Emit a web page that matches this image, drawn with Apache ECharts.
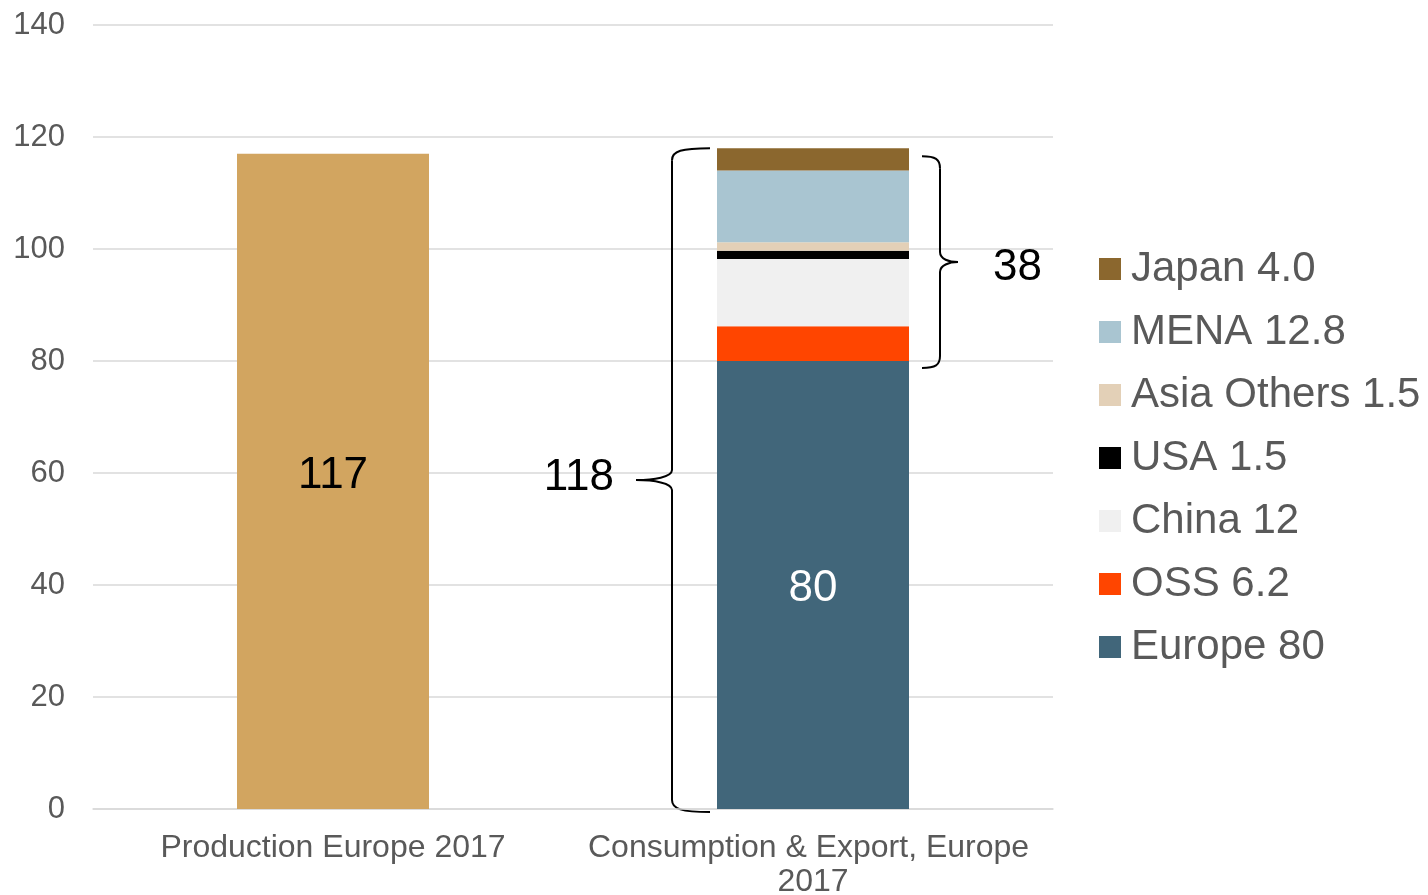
<!DOCTYPE html>
<html>
<head>
<meta charset="utf-8">
<script src="https://cdn.jsdelivr.net/npm/echarts@6/dist/echarts.min.js"></script>
<style>
  html, body { margin: 0; padding: 0; background: #fff; }
</style>
</head>
<body>
<div id="main" style="width: 1428px;height:895px;"></div>
<script type="text/javascript">
    // data
    var categories = ['Production Europe 2017', 'Consumption & Export, Europe 2017'];
    var production = 117;
    var regions = ['Europe', 'OSS', 'China', 'USA', 'Asia Others', 'MENA', 'Japan'];
    var regionValues = [80, 6.2, 12, 1.5, 1.5, 12.8, 4.0];
    var regionText = ['80', '6.2', '12', '1.5', '1.5', '12.8', '4.0'];
    var regionColors = ['#41667a', '#ff4500', '#f0f0f0', '#000000', '#e3d0b7', '#a9c5d1', '#8b672e'];
    var yTicks = [0, 20, 40, 60, 80, 100, 120, 140];
    var exportShare = 38;   // right brace

    var font = 'Liberation Sans, Arial, sans-serif';
    var myChart = echarts.init(document.getElementById('main'));

    var total = 0;
    regionValues.forEach(function (v) { total += v; });
    total = Math.round(total * 10) / 10;

    var seriesList = [{
        name: 'Production',
        type: 'bar',
        stack: 'all',
        barWidth: '40%',
        data: [production, '-'],
        itemStyle: { color: '#d2a560' },
        label: {
            show: true, position: 'inside', offset: [0, -6],
            color: '#000', fontSize: 44, fontFamily: font
        }
    }];
    regions.forEach(function (r, i) {
        seriesList.push({
            name: r,
            type: 'bar',
            stack: 'all',
            barWidth: '40%',
            data: ['-', regionValues[i]],
            itemStyle: { color: regionColors[i] },
            label: {
                show: r === 'Europe', position: 'inside', offset: [0, 4],
                color: '#fff', fontSize: 44, fontFamily: font
            }
        });
    });

    var option = {
        animation: false,
        grid: { left: 93, right: 375, top: 25, bottom: 86, containLabel: false, outerBoundsMode: 'none' },
        legend: {
            orient: 'vertical',
            left: 1099,
            top: 248,
            padding: 0,
            data: regions.slice().reverse(),
            icon: 'rect',
            itemWidth: 22,
            itemHeight: 22,
            itemGap: 21,
            selectedMode: false,
            formatter: function (name) {
                return name + ' ' + regionText[regions.indexOf(name)];
            },
            textStyle: {
                fontSize: 42, lineHeight: 42, color: '#595959',
                fontFamily: font, padding: [0, 0, 0, 5]
            }
        },
        xAxis: {
            type: 'category',
            data: categories,
            axisLine: { lineStyle: { color: '#d9d9d9', width: 1.5 } },
            axisTick: { show: false },
            axisLabel: {
                interval: 0,
                color: '#595959', fontSize: 32, fontFamily: font,
                margin: 22, lineHeight: 34, width: 460, overflow: 'break'
            }
        },
        yAxis: {
            type: 'value',
            min: yTicks[0],
            max: yTicks[yTicks.length - 1],
            interval: yTicks[1] - yTicks[0],
            axisLine: { show: false },
            axisTick: { show: false },
            splitLine: { lineStyle: { color: '#d9d9d9', width: 1.5 } },
            axisLabel: { color: '#595959', fontSize: 31, fontFamily: font, margin: 28 }
        },
        series: seriesList
    };

    myChart.setOption(option);

    // curly braces, placed from data through the chart's own scales
    function brace(xv, top, bottom, armDir, arm, tip) {
        var mid = (top + bottom) / 2;
        var st = { stroke: '#000', lineWidth: 2, fill: null };
        var a = armDir * arm, t = -armDir * tip;
        return [
            { type: 'bezierCurve', shape: { x1: xv + a, y1: top, x2: xv, y2: top + 12, cpx1: xv + a * 0.25, cpy1: top, cpx2: xv, cpy2: top + 3 }, style: st },
            { type: 'line', shape: { x1: xv, y1: top + 12, x2: xv, y2: mid - 10 }, style: st },
            { type: 'bezierCurve', shape: { x1: xv, y1: mid - 10, x2: xv + t, y2: mid, cpx1: xv, cpy1: mid - 3, cpx2: xv + t * 0.5, cpy2: mid }, style: st },
            { type: 'bezierCurve', shape: { x1: xv + t, y1: mid, x2: xv, y2: mid + 10, cpx1: xv + t * 0.5, cpy1: mid, cpx2: xv, cpy2: mid + 3 }, style: st },
            { type: 'line', shape: { x1: xv, y1: mid + 10, x2: xv, y2: bottom - 12 }, style: st },
            { type: 'bezierCurve', shape: { x1: xv, y1: bottom - 12, x2: xv + a, y2: bottom, cpx1: xv, cpy1: bottom - 3, cpx2: xv + a * 0.25, cpy2: bottom }, style: st }
        ];
    }

    var pTop = myChart.convertToPixel({ gridIndex: 0 }, [1, total]);
    var pZero = myChart.convertToPixel({ gridIndex: 0 }, [1, 0]);
    var pEur = myChart.convertToPixel({ gridIndex: 0 }, [1, regionValues[0]]);
    var cx = pTop[0];

    var leftX = cx - 141;
    var lTop = pTop[1], lBot = pZero[1] + 3;
    var rightX = cx + 127;
    var rTop = pTop[1] + 8, rBot = pEur[1] + 7;

    var els = brace(leftX, lTop, lBot, 1, 38, 36).concat(brace(rightX, rTop, rBot, -1, 18, 18));
    els.push({
        type: 'text',
        style: { text: String(total), x: leftX - 36 - 22, y: (lTop + lBot) / 2 - 2, align: 'right', verticalAlign: 'middle', fontSize: 44, fontFamily: font, fill: '#000' }
    });
    els.push({
        type: 'text',
        style: { text: String(exportShare), x: rightX + 18 + 35, y: (rTop + rBot) / 2 + 6, align: 'left', verticalAlign: 'middle', fontSize: 44, fontFamily: font, fill: '#000' }
    });

    myChart.setOption({ graphic: { elements: els } });
</script>
</body>
</html>
